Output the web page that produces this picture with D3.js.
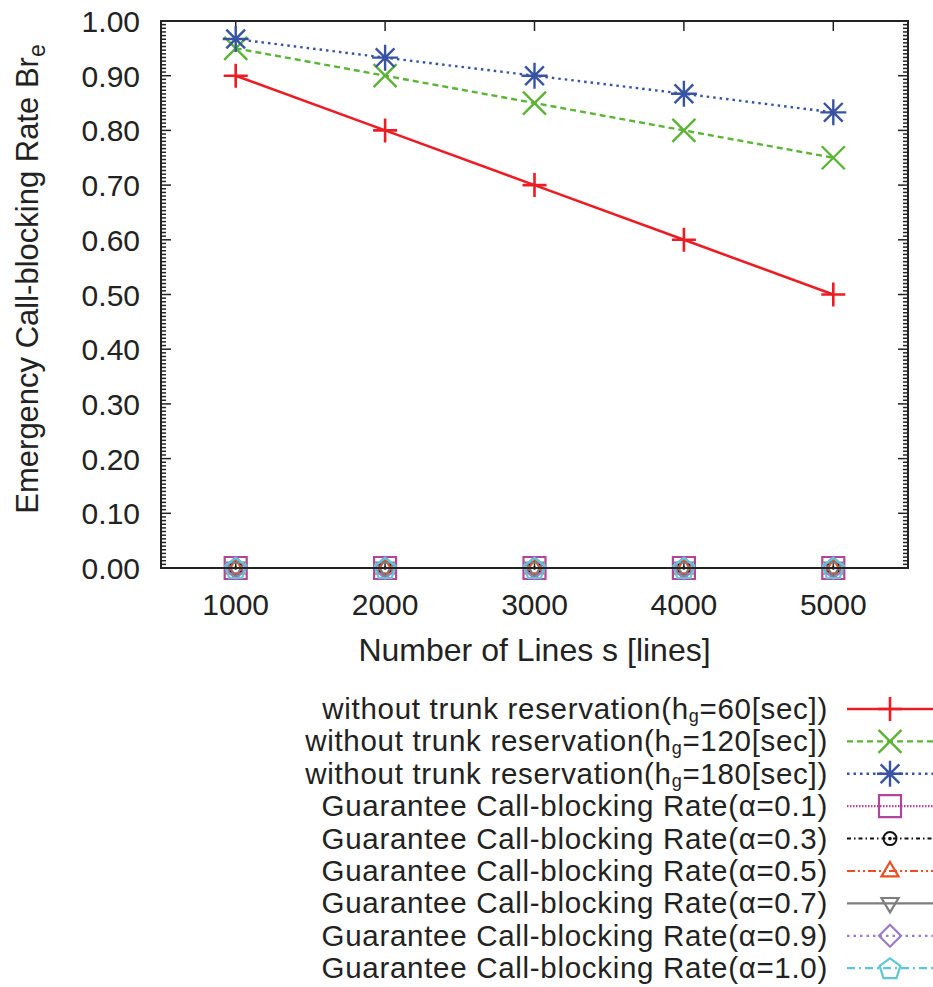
<!DOCTYPE html>
<html>
<head>
<meta charset="utf-8">
<script src="https://cdn.jsdelivr.net/npm/d3@7"></script>
<style>
  body { margin: 0; background: white; }
  text { font-family: "Liberation Sans", Arial, sans-serif; fill: #222; }
</style>
</head>
<body>
<div id="chart"></div>
<script>
// data
const lines = [1000, 2000, 3000, 4000, 5000];
const noTrunk60 = [0.90, 0.80, 0.70, 0.60, 0.50];
const noTrunk120 = [0.95, 0.90, 0.85, 0.80, 0.75];
const noTrunk180 = [0.967, 0.933, 0.900, 0.867, 0.833];
const guarantee01 = [0, 0, 0, 0, 0];
const guarantee03 = [0, 0, 0, 0, 0];
const guarantee05 = [0, 0, 0, 0, 0];
const guarantee07 = [0, 0, 0, 0, 0];
const guarantee09 = [0, 0, 0, 0, 0];
const guarantee10 = [0, 0, 0, 0, 0];
const yTicks = [0, 0.1, 0.2, 0.3, 0.4, 0.5, 0.6, 0.7, 0.8, 0.9, 1.0];

const width = 933, height = 987;
const plot = { left: 161, top: 21, right: 908, bottom: 568 };

// marker path builders (open symbols like gnuplot)
function plusPath(r) { return `M${-r},0H${r}M0,${-r}V${r}`; }
function timesPath(r) { return `M${-r},${-r}L${r},${r}M${-r},${r}L${r},${-r}`; }
function starPath(r) { const d = r * 0.72; return plusPath(r) + `M${-d},${-d}L${d},${d}M${-d},${d}L${d},${-d}`; }
function squarePath(r) { return `M${-r},${-r}H${r}V${r}H${-r}Z`; }
function circlePath(r) { return `M${r},0A${r},${r} 0 1,1 ${-r},0A${r},${r} 0 1,1 ${r},0Z M0.8,0A0.8,0.8 0 1,1 -0.8,0A0.8,0.8 0 1,1 0.8,0Z`; }
function triPath(r) { return `M0,${-r}L${r * 0.95},${r * 0.6}H${-r * 0.95}Z`; }
function triDownPath(r) { return `M0,${r}L${r * 0.95},${-r * 0.6}H${-r * 0.95}Z`; }
function diamondPath(r) { return `M0,${-r}L${r},0L0,${r}L${-r},0Z`; }
function pentaPath(r) {
  let p = d3.range(5).map(i => {
    const a = -Math.PI / 2 + i * 2 * Math.PI / 5;
    return [r * Math.cos(a), r * Math.sin(a) + r * 0.1];
  });
  return "M" + p.map(q => q.join(",")).join("L") + "Z";
}

const series = [
  { label: ["without trunk reservation(h", "g", "=60[sec])"], values: noTrunk60, color: "#ec1c24", dash: null, marker: plusPath, r: 12, w: 2.6 },
  { label: ["without trunk reservation(h", "g", "=120[sec])"], values: noTrunk120, color: "#5bb435", dash: "6,4", marker: timesPath, r: 11.5, w: 2.4 },
  { label: ["without trunk reservation(h", "g", "=180[sec])"], values: noTrunk180, color: "#3853a4", dash: "2.5,4", marker: starPath, r: 13, w: 2.4 },
  { label: ["Guarantee Call-blocking Rate(\u03b1=0.1)"], values: guarantee01, color: "#b0469c", dash: "1.5,1.5", marker: squarePath, r: 11, w: 2.2 },
  { label: ["Guarantee Call-blocking Rate(\u03b1=0.3)"], values: guarantee03, color: "#111111", dash: "4,3,1.5,3", marker: circlePath, r: 6.5, w: 2 },
  { label: ["Guarantee Call-blocking Rate(\u03b1=0.5)"], values: guarantee05, color: "#ea4f23", dash: "8,3,2,3,2,3", marker: triPath, r: 9, w: 2.2 },
  { label: ["Guarantee Call-blocking Rate(\u03b1=0.7)"], values: guarantee07, color: "#7d7d7d", dash: null, marker: triDownPath, r: 9, w: 2.2 },
  { label: ["Guarantee Call-blocking Rate(\u03b1=0.9)"], values: guarantee09, color: "#9a7cc4", dash: "2.5,4", marker: diamondPath, r: 11, w: 2.2 },
  { label: ["Guarantee Call-blocking Rate(\u03b1=1.0)"], values: guarantee10, color: "#5ec6d8", dash: "8,4,2,4", marker: pentaPath, r: 11, w: 2.2 }
];

const svg = d3.select("#chart").append("svg")
  .attr("width", width)
  .attr("height", height);

const x = d3.scaleLinear().domain([500, 5500]).range([plot.left, plot.right]);
const y = d3.scaleLinear().domain([0, 1]).range([plot.bottom, plot.top]);

// ticks (inward, mirrored)
const tickG = svg.append("g").attr("stroke", "#222").attr("stroke-width", 1.5);
const minorTicks = d3.range(0, 150).map(i => i / 150).filter(v => Math.round(v * 150) % 15 !== 0);
minorTicks.forEach(v => {
  tickG.append("line").attr("x1", plot.left).attr("x2", plot.left + 5).attr("y1", y(v)).attr("y2", y(v));
  tickG.append("line").attr("x1", plot.right).attr("x2", plot.right - 5).attr("y1", y(v)).attr("y2", y(v));
});
yTicks.forEach(v => {
  tickG.append("line").attr("x1", plot.left).attr("x2", plot.left + 10).attr("y1", y(v)).attr("y2", y(v));
  tickG.append("line").attr("x1", plot.right).attr("x2", plot.right - 10).attr("y1", y(v)).attr("y2", y(v));
});
lines.forEach(v => {
  tickG.append("line").attr("x1", x(v)).attr("x2", x(v)).attr("y1", plot.bottom).attr("y2", plot.bottom - 10);
  tickG.append("line").attr("x1", x(v)).attr("x2", x(v)).attr("y1", plot.top).attr("y2", plot.top + 10);
});

// tick labels
svg.append("g").selectAll("text").data(yTicks).enter().append("text")
  .attr("x", 140)
  .attr("y", d => y(d) + 11)
  .attr("text-anchor", "end")
  .style("font-size", "30px")
  .text(d => d.toFixed(2));

svg.append("g").selectAll("text").data(lines).enter().append("text")
  .attr("x", d => x(d))
  .attr("y", 615)
  .attr("text-anchor", "middle")
  .style("font-size", "30px")
  .text(d => d);

// axis titles
svg.append("text")
  .attr("x", (plot.left + plot.right) / 2)
  .attr("y", 661)
  .attr("text-anchor", "middle")
  .style("font-size", "32px")
  .text("Number of Lines s [lines]");

const yTitle = svg.append("text")
  .attr("transform", `translate(38,279) rotate(-90)`)
  .attr("text-anchor", "middle")
  .style("font-size", "31px");
yTitle.append("tspan").text("Emergency Call-blocking Rate Br");
yTitle.append("tspan").attr("dy", 7).style("font-size", "23px").text("e");

// series lines and points
const line = d3.line().x(d => x(d[0])).y(d => y(d[1]));
series.forEach(s => {
  const pts = lines.map((l, i) => [l, s.values[i]]);
  svg.append("path")
    .datum(pts)
    .attr("d", line)
    .attr("fill", "none")
    .attr("stroke", s.color)
    .attr("stroke-width", s.w)
    .attr("stroke-dasharray", s.dash);
  svg.append("g").selectAll("path").data(pts).enter().append("path")
    .attr("transform", d => `translate(${x(d[0])},${y(d[1])})`)
    .attr("d", s.marker(s.r))
    .attr("fill", "none")
    .attr("stroke", s.color)
    .attr("stroke-width", s.w);
});

// border
svg.append("rect")
  .attr("x", plot.left).attr("y", plot.top)
  .attr("width", plot.right - plot.left).attr("height", plot.bottom - plot.top)
  .attr("fill", "none").attr("stroke", "#222").attr("stroke-width", 2);

// legend
const legend = svg.append("g");
series.forEach((s, i) => {
  const ly = 709 + i * 32.4;
  const t = legend.append("text")
    .attr("x", 828)
    .attr("y", ly + 10)
    .attr("text-anchor", "end")
    .style("font-size", "29.5px")
    .style("letter-spacing", "0.7px");
  t.append("tspan").text(s.label[0]);
  if (s.label.length > 1) {
    t.append("tspan").attr("dy", 3).style("font-size", "18px").text(s.label[1]);
    t.append("tspan").attr("dy", -3).text(s.label[2]);
  }
  legend.append("line")
    .attr("x1", 847).attr("x2", 933).attr("y1", ly).attr("y2", ly)
    .attr("stroke", s.color).attr("stroke-width", s.w)
    .attr("stroke-dasharray", s.dash);
  legend.append("path")
    .attr("transform", `translate(890,${ly})`)
    .attr("d", s.marker(s.r))
    .attr("fill", "none")
    .attr("stroke", s.color)
    .attr("stroke-width", s.w);
});
</script>
</body>
</html>
